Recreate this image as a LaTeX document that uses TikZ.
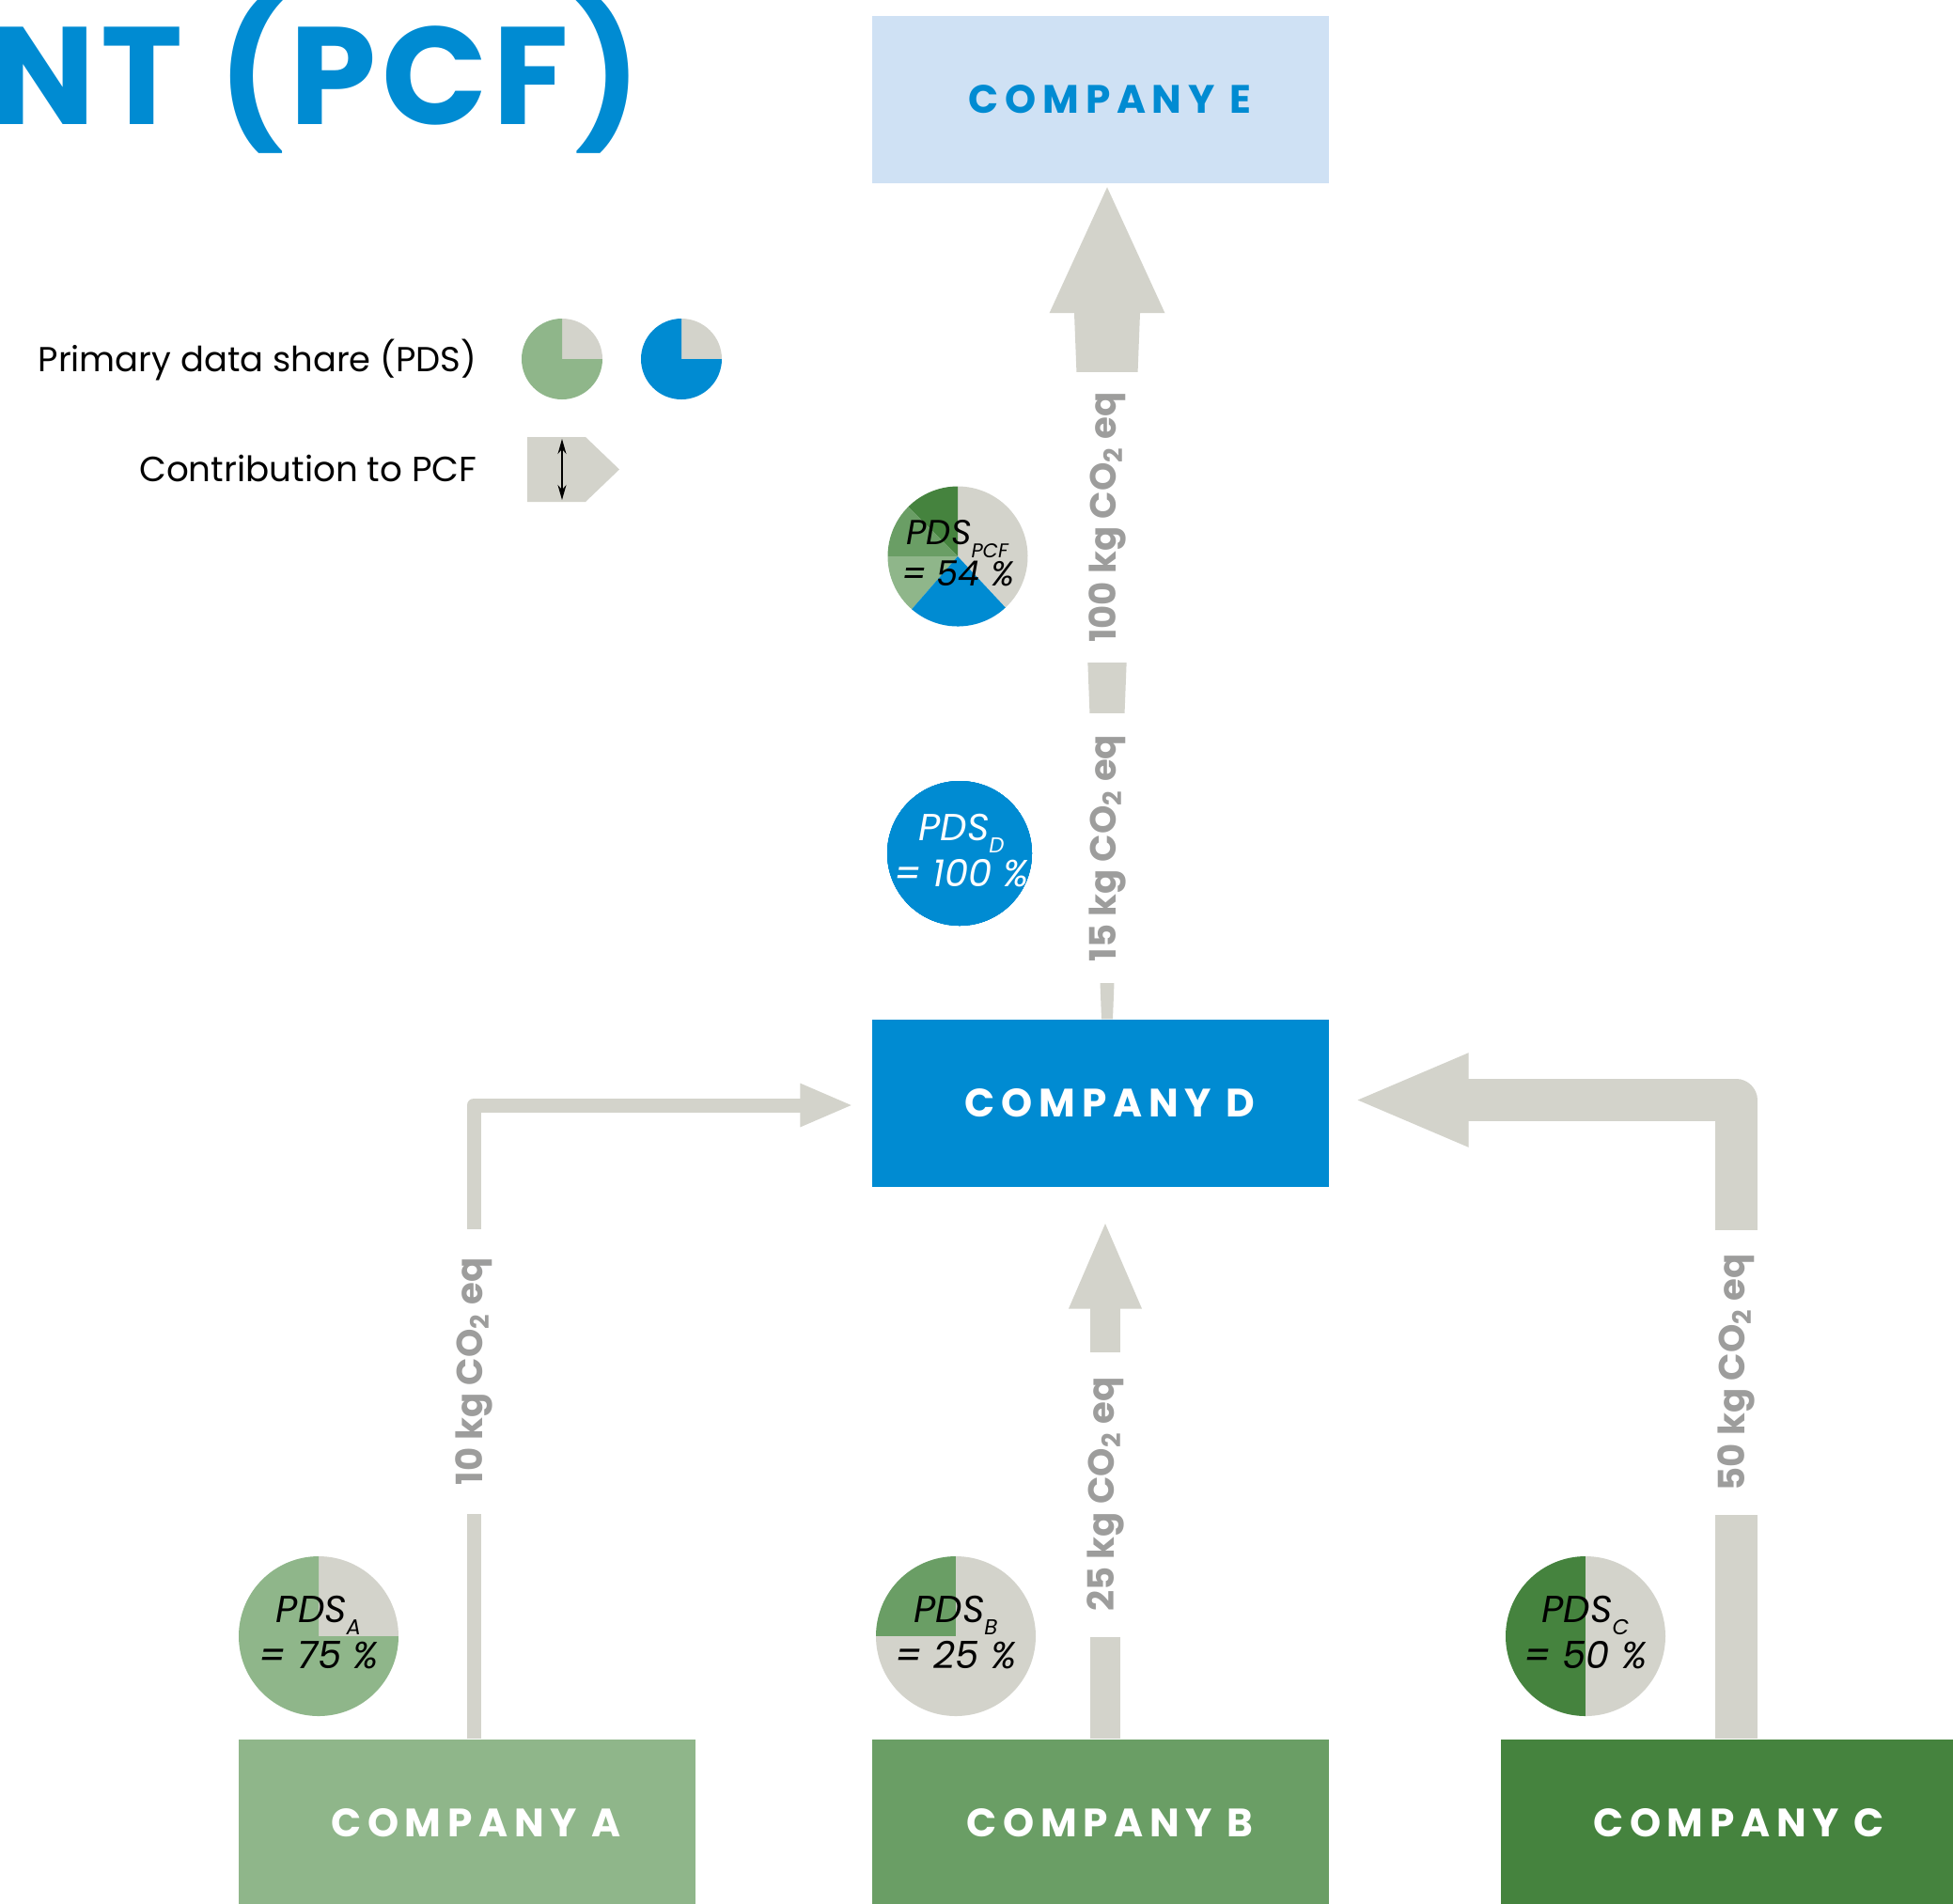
\documentclass[tikz,border=0pt]{standalone}
\usepackage{fontspec}
\setmainfont{Poppins}
\newfontfamily\compfont{Poppins}[LetterSpace=16]
\newfontfamily\titlefont{Poppins}[LetterSpace=4]
\usetikzlibrary{arrows.meta,calc}
\definecolor{pcfblue}{HTML}{008BD2}
\definecolor{lightblue}{HTML}{CFE1F4}
\definecolor{arrowgrey}{HTML}{D3D3CB}
\definecolor{qtygrey}{HTML}{9D9D9C}
\definecolor{greenA}{HTML}{8FB68A}
\definecolor{greenB}{HTML}{6A9E65}
\definecolor{greenC}{HTML}{45833E}
\newcommand{\pieslice}[5]{\fill[#5] (#1) -- ++(#2:#4) arc[start angle=#2,end angle=#3,radius=#4] -- cycle;}
\newcommand{\pds}[3]{\textit{PDS}\raisebox{-3.8pt}{\fontsize{#3}{#3}\selectfont\textit{#1}}\\\textit{= #2 \%}}
\begin{document}
\begin{tikzpicture}[
	company/.style={minimum width=4.86cm,minimum height=1.78cm,inner sep=0pt,text=white,font=\compfont\bfseries\fontsize{12}{14}\selectfont,execute at begin node=\hspace*{0.2cm}},
	qty/.style={rotate=90,fill=white,text=qtygrey,font=\bfseries\fontsize{11}{13}\selectfont,minimum width=3.03cm,minimum height=0.8cm,inner sep=0pt},
	pdstext/.style={align=center,font=\fontsize{11.4}{14.2}\selectfont}
	]
	\clip (0,0) rectangle (20.78,-20.25);
	\node[anchor=base west,inner sep=0pt,text=pcfblue,font=\titlefont\bfseries\fontsize{42}{42}\selectfont] (title) at (-0.1,-1.32) {NT (PCF)};
	% chú thích
	\node[anchor=base east,inner sep=0pt,font=\fontsize{10.5}{12}\selectfont] (legPDS) at (5.08,-3.95) {Primary data share (PDS)};
	\node[anchor=base east,inner sep=0pt,font=\fontsize{10.6}{12}\selectfont] (legPCF) at (5.08,-5.12) {Contribution to PCF};
	\foreach \c/\x in {greenA/5.98,pcfblue/7.25}
	{\pieslice{\x,-3.82}{0}{90}{0.43}{arrowgrey}
	\pieslice{\x,-3.82}{90}{360}{0.43}{\c}}
	\fill[arrowgrey] (5.61,-4.65) -- (6.23,-4.65) -- (6.59,-4.995) -- (6.23,-5.34) -- (5.61,-5.34) -- cycle;
	\draw[{Stealth[length=1.6mm,width=0.9mm]}-{Stealth[length=1.6mm,width=0.9mm]},line width=0.5pt] (5.98,-4.67) -- (5.98,-5.32);
	% các công ty
	\node[company,fill=lightblue,text=pcfblue] (compE) at (11.71,-1.055) {COMPANY E};
	\node[company,fill=pcfblue] (compD) at (11.71,-11.74) {COMPANY D};
	\foreach \n/\x/\c in {A/4.965/greenA,B/11.71/greenB,C/18.40/greenC}
	\node[company,fill=\c] (comp\n) at (\x,-19.40) {COMPANY \n};
	% mũi tên
	\draw[arrowgrey,line width=0.15cm,line join=round,-{Triangle[length=0.57cm,width=0.42cm]},shorten >=0.19cm] ($(compA.north)+(0.075,0)$) |- ($(compD.west)+(0,-0.02)$);
	\draw[arrowgrey,line width=0.32cm,-{Triangle[length=0.95cm,width=0.70cm]},shorten >=0.34cm] ($(compB.north)+(0.05,0)$) -- ($(compD.south)+(0.05,0)$);
	\draw[arrowgrey,line width=0.45cm,line join=round,-{Triangle[length=1.24cm,width=0.90cm]},shorten >=0.24cm] ($(compC.north)+(0.07,0)$) |- ($(compD.east)+(0,0.035)$);
	\fill[arrowgrey] ($(compD.north)+(0.01,0)$) -- ($(compD.north)+(0.13,0)$) -- ($(compE.south)+(0.42,-1.38)$) -- ($(compE.south)+(0.685,-1.38)$) -- ($(compE.south)+(0.07,-0.04)$) -- ($(compE.south)+(-0.545,-1.38)$) -- ($(compE.south)+(-0.28,-1.38)$) -- cycle; % mũi tên thon
	\node[qty] (qA) at (5.04,-14.595) {10 kg CO\textsubscript{2} eq};
	\node[qty] (qB) at (11.76,-15.90) {25 kg CO\textsubscript{2} eq};
	\node[qty] (qC) at (18.47,-14.60) {50 kg CO\textsubscript{2} eq};
	\node[qty,minimum width=2.87cm] (qD) at (11.78,-9.025) {15 kg CO\textsubscript{2} eq};
	\node[qty,minimum width=3.09cm] (qE) at (11.78,-5.505) {100 kg CO\textsubscript{2} eq};
	% biểu đồ tròn
	\foreach \s/\e/\c in {-47/90/arrowgrey,90/135/greenC,135/180/greenB,180/229/greenA,229/313/pcfblue}
	\pieslice{10.19,-5.92}{\s}{\e}{0.745}{\c}
	\fill[pcfblue] (10.21,-9.08) circle (0.77);
	\pieslice{3.39,-17.41}{0}{90}{0.85}{arrowgrey}
	\pieslice{3.39,-17.41}{90}{360}{0.85}{greenA}
	\pieslice{10.17,-17.41}{90}{180}{0.85}{greenB}
	\pieslice{10.17,-17.41}{180}{450}{0.85}{arrowgrey}
	\pieslice{16.87,-17.41}{90}{270}{0.85}{greenC}
	\pieslice{16.87,-17.41}{270}{450}{0.85}{arrowgrey}
	\node[pdstext,font=\fontsize{10.5}{12.5}\selectfont] (tPCF) at (10.19,-5.89) {\pds{PCF}{54}{6}};
	\node[pdstext,text=white] (tD) at (10.23,-9.05) {\pds{D}{100}{6.5}};
	\foreach \n/\x/\v in {A/3.39/75,B/10.17/25,C/16.87/50}
	\node[pdstext] (t\n) at (\x,-17.37) {\pds{\n}{\v}{6.5}};
\end{tikzpicture}
\end{document}
